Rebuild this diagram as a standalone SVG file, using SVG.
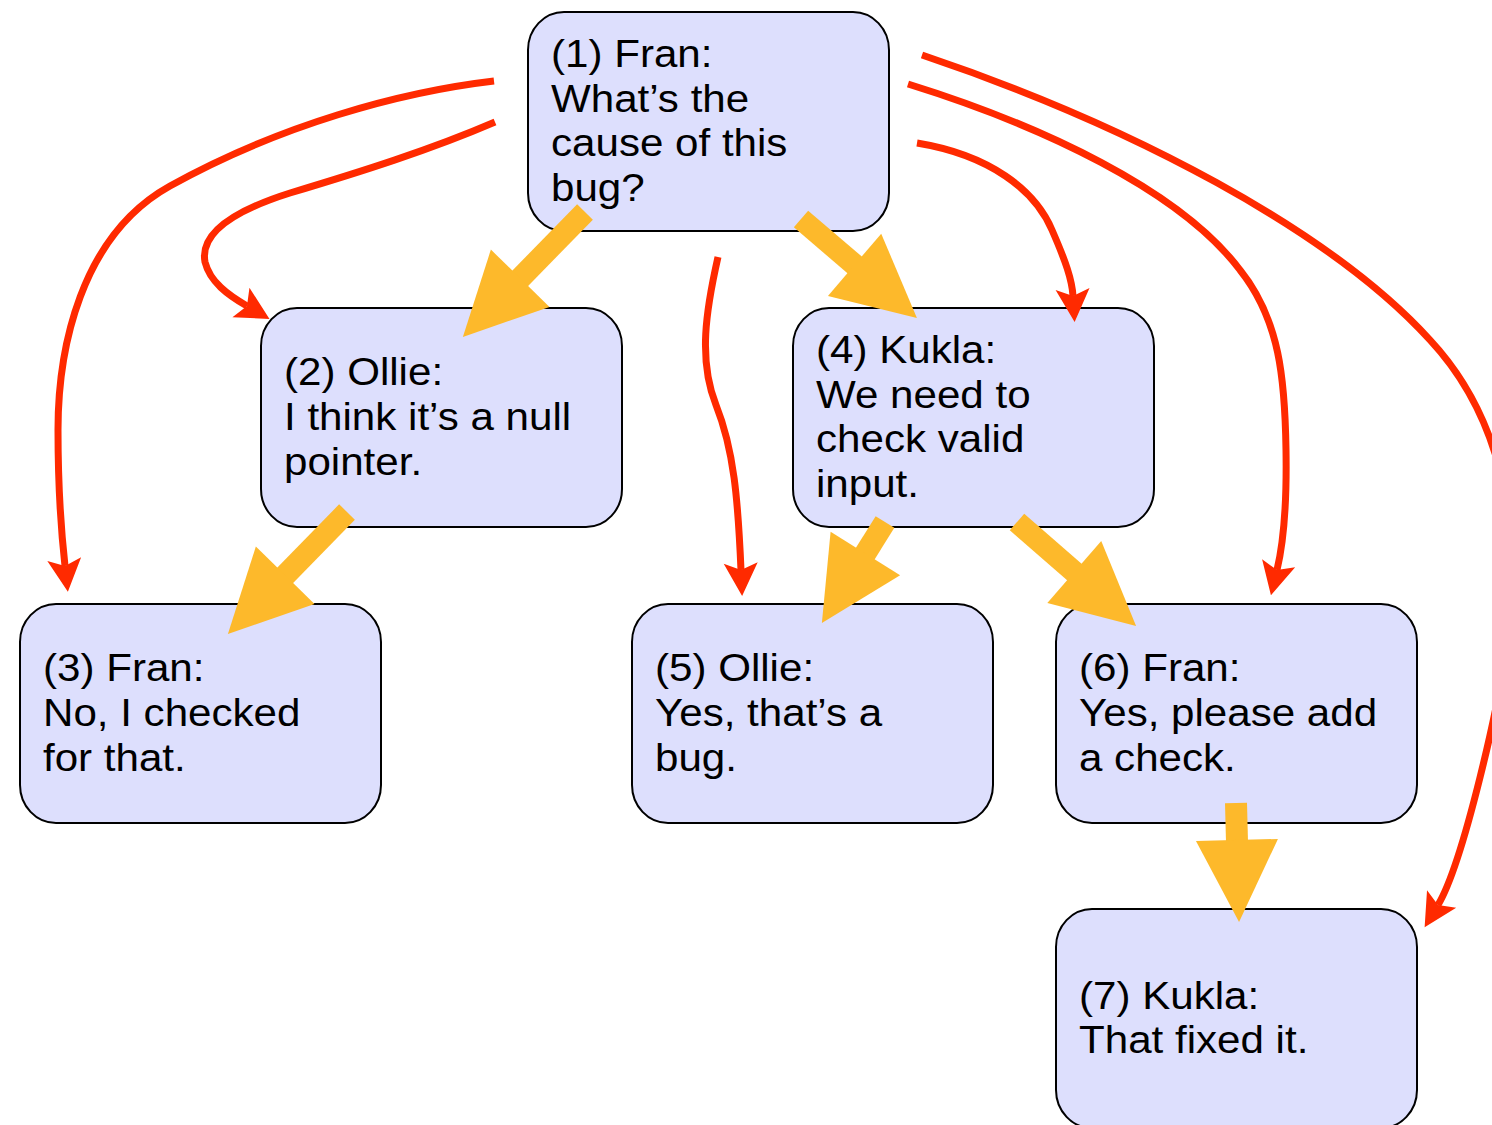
<svg xmlns="http://www.w3.org/2000/svg" width="1492" height="1125" viewBox="0 0 1492 1125">
  <style>
    .box { fill: #dddffd; stroke: #000; stroke-width: 2; }
    .lbl { font-family: "Liberation Sans", Arial, Helvetica, sans-serif; font-size: 39px; fill: #000; }
    .reply { fill: none; stroke: #ff2a00; stroke-width: 7; marker-end: url(#redHead); }
    .thread { fill: none; stroke: #fdb92b; stroke-width: 22; marker-end: url(#blockHead); }
  </style>
  <defs>
    <!-- notched red arrowhead; path ends at the notch -->
    <marker id="redHead" markerUnits="userSpaceOnUse" orient="auto" overflow="visible"
            markerWidth="40" markerHeight="40" refX="0" refY="0">
      <path d="M26,0 L-7,-17 L0,0 L-7,17 Z" fill="#ff2a00"/>
    </marker>
    <!-- wide orange triangle head for the block arrows -->
    <marker id="blockHead" markerUnits="userSpaceOnUse" orient="auto" overflow="visible"
            markerWidth="90" markerHeight="90" refX="2" refY="0">
      <path d="M0,-41 L82,0 L0,41 Z" fill="#fdb92b"/>
    </marker>
  </defs>

  <rect width="1492" height="1125" fill="#fff"/>

  <g id="n1">
    <rect class="box" x="528" y="12" width="361" height="219" rx="36" ry="38"/>
    <text class="lbl" transform="translate(551 0) scale(1.08 1)">
      <tspan x="0" y="67">(1) Fran:</tspan>
      <tspan x="0" y="111.7">What’s the</tspan>
      <tspan x="0" y="156.4">cause of this</tspan>
      <tspan x="0" y="201.1">bug?</tspan>
    </text>
  </g>
  <g id="n2">
    <rect class="box" x="261" y="308" width="361" height="219" rx="36" ry="38"/>
    <text class="lbl" transform="translate(284 0) scale(1.08 1)">
      <tspan x="0" y="385.3">(2) Ollie:</tspan>
      <tspan x="0" y="430">I think it’s a null</tspan>
      <tspan x="0" y="474.7">pointer.</tspan>
    </text>
  </g>
  <g id="n3">
    <rect class="box" x="20" y="604" width="361" height="219" rx="36" ry="38"/>
    <text class="lbl" transform="translate(43 0) scale(1.08 1)">
      <tspan x="0" y="681.3">(3) Fran:</tspan>
      <tspan x="0" y="726">No, I checked</tspan>
      <tspan x="0" y="770.7">for that.</tspan>
    </text>
  </g>
  <g id="n4">
    <rect class="box" x="793" y="308" width="361" height="219" rx="36" ry="38"/>
    <text class="lbl" transform="translate(816 0) scale(1.08 1)">
      <tspan x="0" y="363">(4) Kukla:</tspan>
      <tspan x="0" y="407.7">We need to</tspan>
      <tspan x="0" y="452.4">check valid</tspan>
      <tspan x="0" y="497.1">input.</tspan>
    </text>
  </g>
  <g id="n5">
    <rect class="box" x="632" y="604" width="361" height="219" rx="36" ry="38"/>
    <text class="lbl" transform="translate(655 0) scale(1.08 1)">
      <tspan x="0" y="681.3">(5) Ollie:</tspan>
      <tspan x="0" y="726">Yes, that’s a</tspan>
      <tspan x="0" y="770.7">bug.</tspan>
    </text>
  </g>
  <g id="n6">
    <rect class="box" x="1056" y="604" width="361" height="219" rx="36" ry="38"/>
    <text class="lbl" transform="translate(1079 0) scale(1.08 1)">
      <tspan x="0" y="681.3">(6) Fran:</tspan>
      <tspan x="0" y="726">Yes, please add</tspan>
      <tspan x="0" y="770.7">a check.</tspan>
    </text>
  </g>
  <g id="n7">
    <rect class="box" x="1056" y="909" width="361" height="219" rx="36" ry="38"/>
    <text class="lbl" transform="translate(1079 0) scale(1.08 1)">
      <tspan x="0" y="1008.6">(7) Kukla:</tspan>
      <tspan x="0" y="1053.3">That fixed it.</tspan>
    </text>
  </g>

  <g id="connectors">
    <!-- red "replies to" curves -->
    <path class="reply" d="M494,81 C400,92 280,125 170,186 C80,236 58,350 58,430 C58,490 61,530 65,566"/>
    <path class="reply" d="M495,122 C430,150 360,172 290,193 C230,212 200,235 205,262 C210,282 228,295 247,306"/>
    <path class="reply" d="M718,257 C706,310 698,360 716,405 C734,450 738,500 741,570"/>
    <path class="reply" d="M917,143 C990,155 1035,190 1052,230 C1066,262 1072,280 1073,296"/>
    <path class="reply" d="M908,84 C1040,125 1180,190 1240,270 C1280,320 1285,380 1286,450 C1287,510 1283,545 1277,570"/>
    <path class="reply" d="M922,55 C1130,125 1330,230 1430,340 C1500,415 1520,520 1510,620 C1502,700 1462,865 1438,905"/>

    <!-- orange thread arrows -->
    <path class="thread" d="M585,212 L518.8,279.7"/>
    <path class="thread" d="M801,219 L856.1,266.1"/>
    <path class="thread" d="M347,512 L283.8,576.7"/>
    <path class="thread" d="M885,522 L864.3,555.1"/>
    <path class="thread" d="M1017,522 L1075.8,573.3"/>
    <path class="thread" d="M1236,803 L1237,842"/>
  </g>
</svg>
